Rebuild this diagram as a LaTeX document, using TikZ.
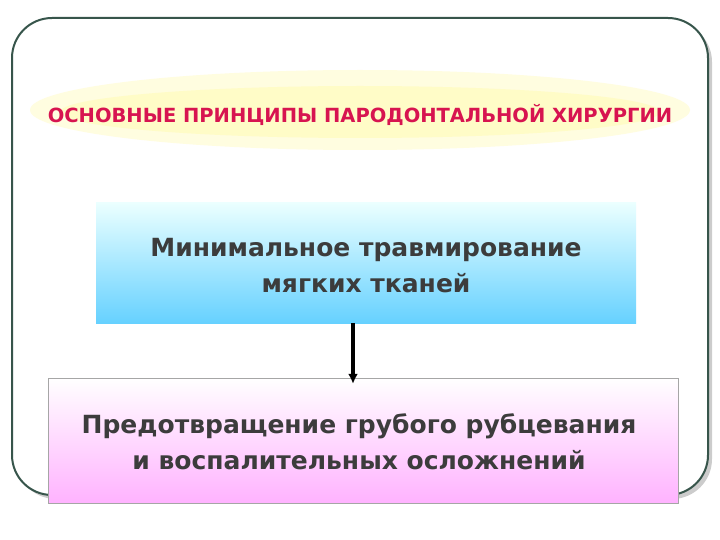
\documentclass[tikz,border=0pt]{standalone}
\usepackage{fontspec}
\setmainfont{DejaVu Sans}
\usetikzlibrary{arrows.meta}
\definecolor{frame}{RGB}{55,85,75}
\definecolor{titlered}{RGB}{215,20,80}
\definecolor{boxtext}{RGB}{60,60,60}
\tikzset{
  bigtext/.style={font=\bfseries\fontsize{25}{36}\selectfont, text=boxtext, align=center},
}
\begin{document}
\begin{tikzpicture}[x=1pt,y=-1pt]
\useasboundingbox (0,0) rectangle (720,540);
\fill[gray!40, rounded corners=40pt] (16,22) rectangle (712,499);
\draw[frame, line width=2pt, fill=white, rounded corners=40pt] (12,18) rectangle (708,495);
\fill[yellow!12] (360,110) ellipse [x radius=330pt, y radius=40pt];
\fill[yellow!22] (360,112) ellipse [x radius=300pt, y radius=26pt];
\node[font=\bfseries\fontsize{19.5}{22}\selectfont, text=titlered] (title) at (360,115) {ОСНОВНЫЕ ПРИНЦИПЫ ПАРОДОНТАЛЬНОЙ ХИРУРГИИ};
\shade[top color=cyan!8, bottom color=cyan!70!blue!60] (96,203) rectangle (636,323);
\node[minimum width=540pt, minimum height=120pt, inner sep=0pt] (b1) at (366,263) {};
\node[bigtext] (t1) at (366,266) {Минимальное травмирование\\мягких тканей};
\shade[top color=white, bottom color=magenta!30] (48,378) rectangle (678,503);
\draw[gray!70, line width=0.6pt] (48,378) rectangle (678,503);
\node[minimum width=630pt, minimum height=125pt, inner sep=0pt] (b2) at (363,440.5) {};
\node[bigtext] (t2) at (359,442) {Предотвращение грубого рубцевания\\и воспалительных осложнений};
\coordinate (ax) at (353,0);
\draw[line width=3.5pt, -{Latex[length=10pt,width=10pt]}] (b1.south -| ax) -- ([yshift=-6pt]b2.north -| ax);
\end{tikzpicture}
\end{document}
